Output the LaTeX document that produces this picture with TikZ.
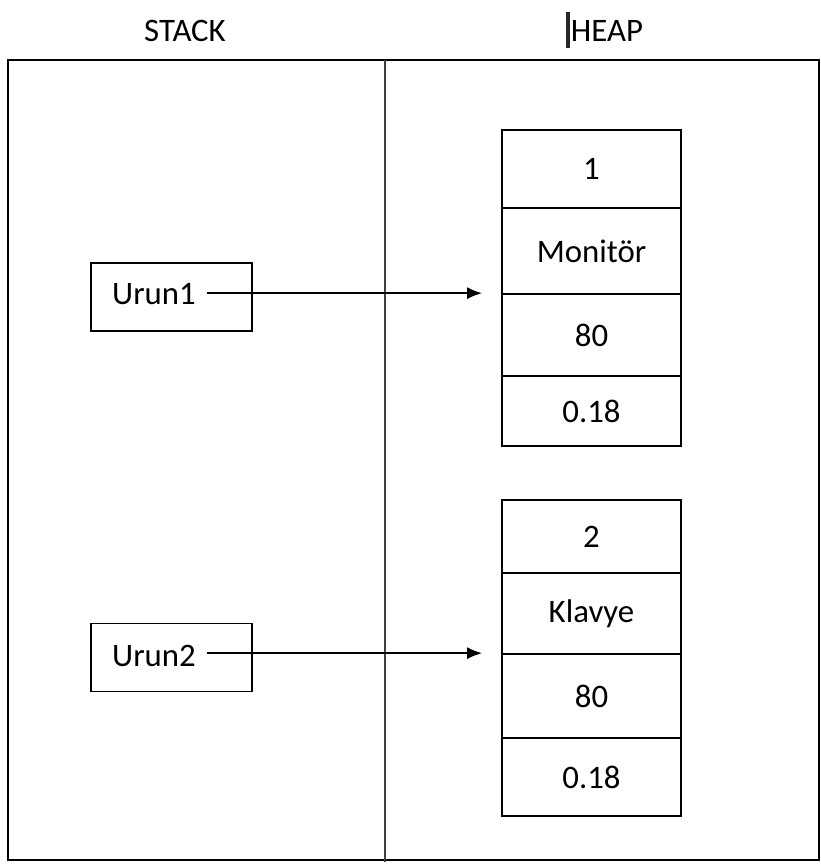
\documentclass[tikz,border=0pt]{standalone}
\usepackage{fontspec}
\setmainfont{Carlito}
\usetikzlibrary{calc,arrows.meta}

\begin{document}
\begin{tikzpicture}[x=0.03cm,y=-0.03cm,
        link/.style={line width=1.5pt,-{Latex[length=0.45cm,width=0.36cm]},shorten <=0.2cm,shorten >=19*0.03cm},
        stackbox/.style={draw,line width=1.5pt,minimum width=161*0.03cm,minimum height=68*0.03cm},
        cell/.style={draw,line width=1.5pt,minimum width=179*0.03cm,inner sep=0pt},
        lbl/.style={font=\fontsize{28}{32}\selectfont}]
            \path[use as bounding box] (0,0) rectangle (821,865);

            % frame
            \draw[line width=1.6pt] (8,60) rectangle (819,860);
            \draw[line width=1.6pt,black!75] (385,60) -- (385,862);
            \node[lbl] (stack) at (185,31) {STACK};
            \node[lbl] (heap) at (607,31) {HEAP};
            \draw[line width=3pt,black!85] (568,12) -- (568,48);

            % stack
            \node[stackbox] (urun1) at (171.5,297) {};
            \node[lbl] (urun1txt) at (154,294) {Urun1};
            \node[stackbox] (urun2) at (171.5,657.5) {};
            \node[lbl] (urun2txt) at (154,656) {Urun2};

            % heap cells: name/top/bottom/text
            \foreach \n/\t/\b/\txt in {h1a/130/208/1, h1b/208/294/Monitör, h1c/294/376/80, h1d/376/446/0.18,
                                        h2a/500/573/2, h2b/573/654/Klavye, h2c/654/738/80, h2d/738/816/0.18} {
                \node[cell,lbl,minimum height={(\b-\t)*0.03cm}] (\n) at (591.5,{(\t+\b)/2}) {\txt};
            }

            \draw[link] (urun1txt.east |- h1c.north west) -- (h1c.north west);
            \draw[link] (urun2txt.east |- h2c.north west) -- (h2c.north west);
        \end{tikzpicture}
\end{document}
